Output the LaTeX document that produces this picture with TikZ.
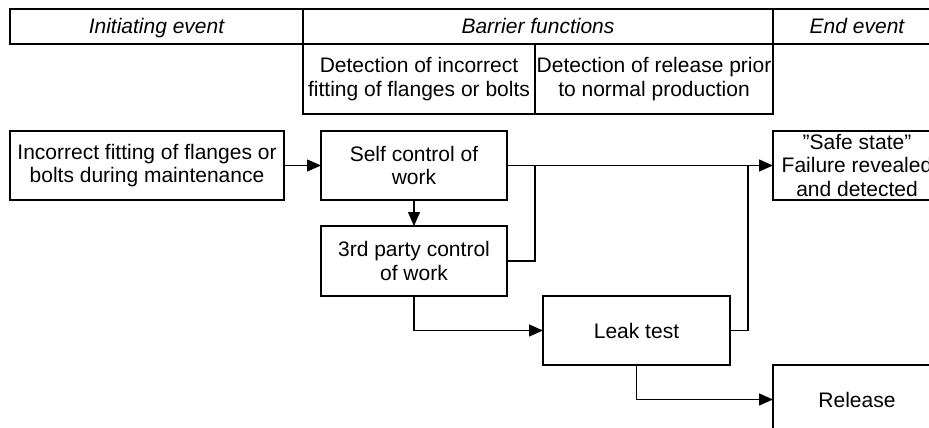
\documentclass[tikz,border=0pt]{standalone}
\usepackage{fontspec}
\setmainfont{Liberation Sans}
\usetikzlibrary{positioning,arrows.meta}

\begin{document}
\begin{tikzpicture}[
x=1pt, y=1pt,
node distance=0pt,
cell/.style={
    rectangle,
    draw=black,
    line width=1.2pt,
    inner sep=0pt,
    outer sep=0pt,
    align=center,
    font=\fontsize{21}{23.5}\selectfont
},
head/.style={
    cell,
    minimum height=35pt,
    text height=14pt,
    text depth=0pt,
    font=\fontsize{21}{23.5}\selectfont\itshape
},
sub/.style={
    cell,
    minimum height=70pt
},
box/.style={
    cell,
    minimum height=69pt
},
line/.style={
    -{Triangle[length=14pt,width=12pt]},
    line width=1.2pt
},
link/.style={
    line width=1.2pt
}
]
\useasboundingbox (0,0) rectangle (929,-428);
\clip (0,0) rectangle (929,-428);

% Header
\node[head,minimum width=293pt] (hinit) at (156.5,-26.5) {Initiating event};
\node[head,minimum width=470pt,right=of hinit] (hbar) {Barrier functions};
\node[head,minimum width=168pt,right=of hbar] (hend) {End event};

\node[sub,minimum width=232pt,below right=0pt and 0pt of hinit] (dfit)
{Detection of incorrect\\fitting of flanges or bolts};
\node[sub,minimum width=238pt,right=of dfit] (drel)
{Detection of release prior\\to normal production};

% Boxes
\node[box,minimum width=274pt] (init) at (147,-165.5)
{Incorrect fitting of flanges or\\bolts during maintenance};
\node[box,minimum width=186pt,right=37pt of init] (self)
{Self control of\\work};
\node[box,minimum width=186pt,minimum height=70pt,below=26pt of self] (third)
{3rd party control\\of work};
\node[box,minimum width=187pt,below right=0pt and 36pt of third] (leak)
{Leak test};

% End events
\node[box,minimum width=168pt,right=266pt of self] (safe)
{”Safe state”\\Failure revealed\\and detected};
\node[box,minimum width=168pt,below right=0pt and 43pt of leak] (release)
{Release};

% Connections
\coordinate[right=28pt of self.east] (jself);
\coordinate[right=18pt of leak.east] (jleak);

\draw[line] (init) -- (self);
\draw[line] (self) -- (third);
\draw[line] (self) -- (safe);
\draw[link] (third) -| (jself);
\draw[link] (leak) -- (jleak) -- (jleak |- self.east);
\draw[line] (third) |- (leak);
\draw[line] (leak) |- (release);

\end{tikzpicture}
\end{document}
